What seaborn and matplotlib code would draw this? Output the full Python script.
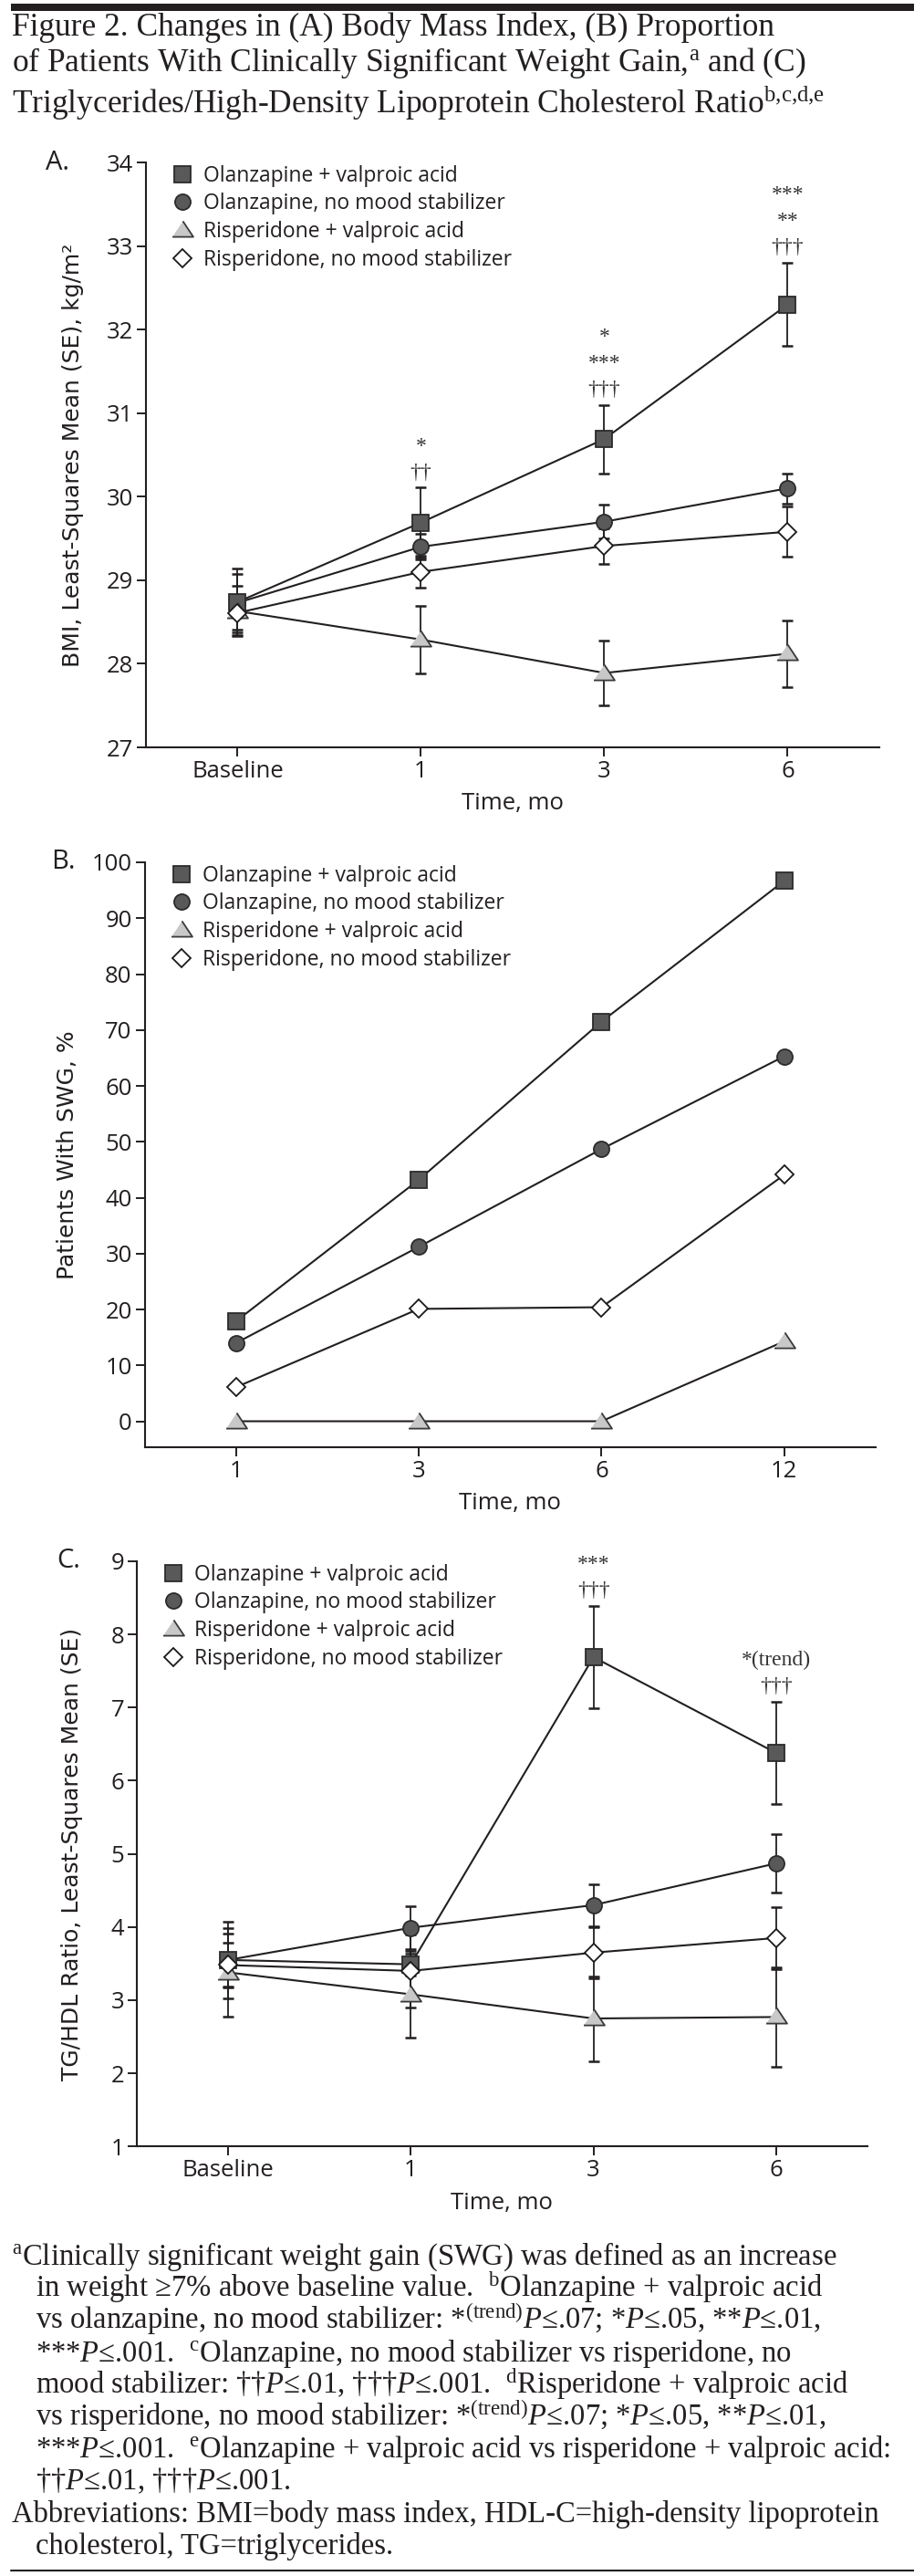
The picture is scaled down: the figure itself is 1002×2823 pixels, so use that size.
import numpy as np
import pandas as pd
import matplotlib
matplotlib.use('Agg')
from matplotlib import pyplot as plt
from matplotlib.lines import Line2D
from matplotlib.patches import Rectangle
import seaborn as sns

groups = ['Olanzapine + valproic acid', 'Olanzapine, no mood stabilizer',
          'Risperidone + valproic acid', 'Risperidone, no mood stabilizer']

# A. BMI, least-squares mean (SE)
bmi_times = ['Baseline', '1', '3', '6']
bmi_olz_vpa = [28.74, 29.69, 30.69, 32.30]
bmi_olz_vpa_se = [0.40, 0.42, 0.41, 0.50]
bmi_olz = [28.73, 29.40, 29.70, 30.10]
bmi_olz_se = [0.35, 0.15, 0.20, 0.18]
bmi_ris_vpa = [28.63, 28.29, 27.89, 28.12]
bmi_ris_vpa_se = [0.30, 0.40, 0.39, 0.40]
bmi_ris = [28.61, 29.10, 29.41, 29.58]
bmi_ris_se = [0.20, 0.19, 0.21, 0.30]
bmi_marks = ['', '*\n††', '*\n***\n†††', '***\n**\n†††']

# B. patients with SWG, %
swg_times = ['1', '3', '6', '12']
swg_olz_vpa = [17.9, 43.2, 71.5, 96.7]
swg_olz = [14.0, 31.2, 48.7, 65.3]
swg_ris_vpa = [0.0, 0.0, 0.0, 14.3]
swg_ris = [6.1, 20.1, 20.4, 44.1]

# C. TG/HDL ratio, least-squares mean (SE)
tg_times = ['Baseline', '1', '3', '6']
tg_olz_vpa = [3.55, 3.49, 7.69, 6.38]
tg_olz_vpa_se = [0.36, 0.15, 0.70, 0.70]
tg_olz = [3.55, 3.99, 4.30, 4.87]
tg_olz_se = [0.52, 0.29, 0.29, 0.40]
tg_ris_vpa = [3.38, 3.08, 2.75, 2.77]
tg_ris_vpa_se = [0.60, 0.59, 0.58, 0.68]
tg_ris = [3.48, 3.40, 3.65, 3.85]
tg_ris_se = [0.31, 0.50, 0.35, 0.42]
tg_marks = ['', '', '***\n†††', '*(trend)\n†††']

sns.set_theme(style='ticks')
plt.rcParams['font.family'] = ['Open Sans', 'DejaVu Sans']
plt.rcParams['mathtext.fontset'] = 'custom'
plt.rcParams['mathtext.rm'] = 'Liberation Serif'
plt.rcParams['mathtext.it'] = 'Liberation Serif:italic'

W, H = 1003, 2823
fig = plt.figure(figsize=(W / 100, H / 100), dpi=100)
ink = '#231f20'

def box(left, top, right, bottom):
    return [left / W, 1 - bottom / H, (right - left) / W, (bottom - top) / H]

tri = [(-1.0, -0.62), (1.0, -0.62), (0.0, 0.88)]
styles = {
    groups[0]: dict(marker='s', markersize=12.5, markerfacecolor='#595959', markeredgecolor='#2b2b2b'),
    groups[1]: dict(marker='o', markersize=12.3, markerfacecolor='#595959', markeredgecolor='#2b2b2b'),
    groups[2]: dict(marker=tri, markersize=16.5, markerfacecolor='#c8c8c8', markeredgecolor='#3a3a3a'),
    groups[3]: dict(marker='D', markersize=9.8, markerfacecolor='white', markeredgecolor='#1a1a1a'),
}
draw_order = [groups[1], groups[0], groups[2], groups[3]]


def draw_panel(ax, times, values, errors, marks, ylim, yticks, ylabel, label_x):
    pos = list(range(len(times)))
    for g in draw_order:
        if errors is not None:
            ax.errorbar(pos, values[g], yerr=errors[g], fmt='none', ecolor=ink,
                        elinewidth=1.3, capsize=4.6, capthick=1.8, zorder=2)
        d = pd.DataFrame({'pos': pos, 'value': values[g]})
        sns.lineplot(data=d, x='pos', y='value', ax=ax, color=ink, lw=1.5,
                     errorbar=None, markeredgewidth=1.3, zorder=3, **styles[g])
    if marks is not None:
        for i, m in enumerate(marks):
            if m:
                top = values[groups[0]][i] + errors[groups[0]][i]
                ax.annotate(m, xy=(i, top), xytext=(0, 4), textcoords='offset points',
                            ha='center', va='bottom', multialignment='center',
                            fontsize=17, linespacing=1.5, color='#333333',
                            family='Liberation Serif')
    ax.set_xlim(-0.5, len(times) - 0.5)
    ax.set_ylim(*ylim)
    ax.set_xticks(pos)
    ax.set_xticklabels(times)
    ax.set_yticks(yticks)
    ax.set_xlabel('Time, mo', fontsize=18.5, color=ink)
    ax.xaxis.set_label_coords(0.5, -0.077)
    ax.set_ylabel(ylabel, fontsize=18, family='DejaVu Sans', color=ink)
    ax.yaxis.set_label_coords(label_x, 0.5)
    sns.despine(ax=ax)
    for s in ['left', 'bottom']:
        ax.spines[s].set_linewidth(1.5)
        ax.spines[s].set_color(ink)
    ax.tick_params(axis='both', length=7, width=1.4, color=ink, labelsize=18.5,
                   labelcolor=ink, pad=3, direction='out')
    handles = [Line2D([], [], ls='none', markeredgewidth=1.3, **styles[g]) for g in groups]
    ax.legend(handles, groups, loc='upper left', bbox_to_anchor=(0.036, 0.996),
              frameon=False, fontsize=16.5, handlelength=1.0, handletextpad=0.5,
              labelspacing=0.3, borderpad=0, borderaxespad=0, labelcolor=ink)


# top rule and title
fig.add_artist(Rectangle((12 / W, 1 - 12 / H), (W - 12) / W, 8 / H,
                         transform=fig.transFigure, color=ink, lw=0))
title = ('Figure 2. Changes in (A) Body Mass Index, (B) Proportion\n'
         'of Patients With Clinically Significant Weight Gain,$^{\\mathrm{a}}$ and (C)\n'
         'Triglycerides/High-Density Lipoprotein Cholesterol Ratio$^{\\mathrm{b{,}c{,}d{,}e}}$')
fig.text(13 / W, 1 - 123.5 / H, title, family='Liberation Serif', fontsize=25.5,
         va='baseline', ha='left', linespacing=1.1, color=ink)

axA = fig.add_axes(box(160, 178, 964, 819))
draw_panel(axA, bmi_times,
           {groups[0]: bmi_olz_vpa, groups[1]: bmi_olz, groups[2]: bmi_ris_vpa, groups[3]: bmi_ris},
           {groups[0]: bmi_olz_vpa_se, groups[1]: bmi_olz_se, groups[2]: bmi_ris_vpa_se, groups[3]: bmi_ris_se},
           bmi_marks, (27, 34), range(27, 35), 'BMI, Least-Squares Mean (SE), kg/m²', -0.085)

axB = fig.add_axes(box(158.6, 945, 960, 1585.7))
draw_panel(axB, swg_times,
           {groups[0]: swg_olz_vpa, groups[1]: swg_olz, groups[2]: swg_ris_vpa, groups[3]: swg_ris},
           None, None, (-4.6, 100), range(0, 101, 10), 'Patients With SWG, %', -0.09)

axC = fig.add_axes(box(150, 1711, 951, 2352.3))
draw_panel(axC, tg_times,
           {groups[0]: tg_olz_vpa, groups[1]: tg_olz, groups[2]: tg_ris_vpa, groups[3]: tg_ris},
           {groups[0]: tg_olz_vpa_se, groups[1]: tg_olz_se, groups[2]: tg_ris_vpa_se, groups[3]: tg_ris_se},
           tg_marks, (1, 9), range(1, 10), 'TG/HDL Ratio, Least-Squares Mean (SE)', -0.074)

for lab, x, y in [('A.', 50, 178), ('B.', 56, 945), ('C.', 62, 1710)]:
    fig.text(x / W, 1 - y / H, lab, fontsize=21, va='center', ha='left', color=ink)

footnotes = [
    (0, r'$^{\mathrm{a}}$Clinically significant weight gain (SWG) was defined as an increase'),
    (1, r'in weight ≥7% above baseline value.  $^{\mathrm{b}}$Olanzapine + valproic acid'),
    (1, r'vs olanzapine, no mood stabilizer: *$^{\mathrm{(trend)}}P$≤.07; *$P$≤.05, **$P$≤.01,'),
    (1, r'***$P$≤.001.  $^{\mathrm{c}}$Olanzapine, no mood stabilizer vs risperidone, no'),
    (1, r'mood stabilizer: ††$P$≤.01, †††$P$≤.001.  $^{\mathrm{d}}$Risperidone + valproic acid'),
    (1, r'vs risperidone, no mood stabilizer: *$^{\mathrm{(trend)}}P$≤.07; *$P$≤.05, **$P$≤.01,'),
    (1, r'***$P$≤.001.  $^{\mathrm{e}}$Olanzapine + valproic acid vs risperidone + valproic acid:'),
    (1, r'††$P$≤.01, †††$P$≤.001.'),
    (0, 'Abbreviations: BMI=body mass index, HDL-C=high-density lipoprotein'),
    (1, 'cholesterol, TG=triglycerides.'),
]
for i, (indent, t) in enumerate(footnotes):
    fig.text((13 + 26 * indent) / W, 1 - (2482 + 35.2 * i) / H, t, family='Liberation Serif',
             fontsize=23.5, va='baseline', ha='left', color=ink)

fig.add_artist(Line2D([12 / W, 1], [1 - 2817 / H, 1 - 2817 / H], transform=fig.transFigure,
                      color=ink, lw=1.5))

fig.savefig('out.png', dpi=100)
